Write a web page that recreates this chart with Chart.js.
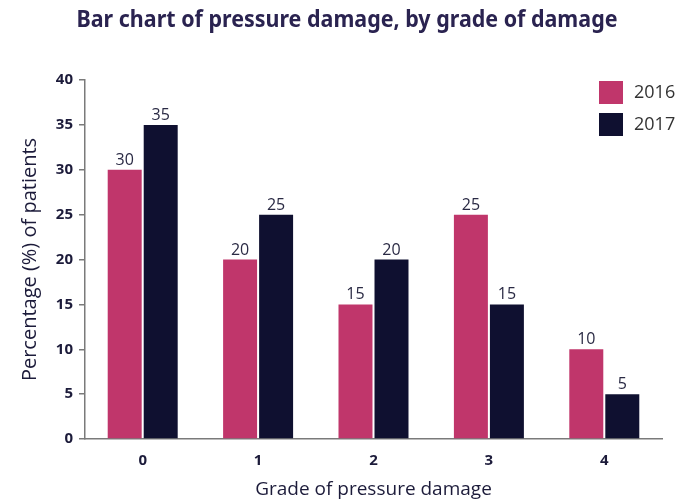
<!DOCTYPE html>
<html>
<head>
<meta charset="utf-8">
<script src="https://cdn.jsdelivr.net/npm/chart.js@4/dist/chart.umd.min.js"></script>
<style>
  html, body { margin: 0; padding: 0; background: #fff; }
  #wrap { width: 690px; height: 503px; }
</style>
</head>
<body>
<div id="wrap"><canvas id="chart"></canvas></div>
<script>
// === DATOS ===
const grades = ["0", "1", "2", "3", "4"];
const values2016 = [30, 20, 15, 25, 10];
const values2017 = [35, 25, 20, 15, 5];
const yTicks = [0, 5, 10, 15, 20, 25, 30, 35, 40];
const chartTitle = "Bar chart of pressure damage, by grade of damage";

const PINK = "#c0366b";
const NAVY = "#0f1030";
const TEXT = "#1c1b3a";

// título algo condensado (no hay fuente condensada instalada)
const condensedTitle = {
  id: "condensedTitle",
  afterDraw(chart) {
    const ctx = chart.ctx;
    ctx.save();
    ctx.font = "bold 23px 'Noto Sans'";
    ctx.fillStyle = "#2a2350";
    ctx.textBaseline = "alphabetic";
    const w = ctx.measureText(chartTitle).width;
    const sx = Math.min(1, 541 / w);
    ctx.translate(347 - (w * sx) / 2, 27);
    ctx.scale(sx, 1);
    ctx.fillText(chartTitle, 0, 0);
    ctx.restore();
  },
};

// etiquetas de valor sobre cada barra
const valueLabels = {
  id: "valueLabels",
  afterDatasetsDraw(chart) {
    const ctx = chart.ctx;
    ctx.save();
    ctx.font = "16px 'Open Sans'";
    ctx.fillStyle = "#2a2a44";
    ctx.textAlign = "center";
    ctx.textBaseline = "alphabetic";
    chart.data.datasets.forEach((ds, i) => {
      chart.getDatasetMeta(i).data.forEach((bar, j) => {
        ctx.fillText(ds.data[j], bar.x, bar.y - 5);
      });
    });
    ctx.restore();
  },
};

// leyenda dibujada a mano arriba a la derecha
const cornerLegend = {
  id: "cornerLegend",
  afterDraw(chart) {
    const ctx = chart.ctx;
    ctx.save();
    ctx.font = "18px 'Open Sans'";
    ctx.textBaseline = "middle";
    chart.data.datasets.forEach((ds, i) => {
      const y = 81 + i * 32;
      ctx.fillStyle = ds.backgroundColor;
      ctx.fillRect(599, y, 24, 23);
      ctx.fillStyle = "#333";
      ctx.fillText(ds.label, 634, y + 12);
    });
    ctx.restore();
  },
};

new Chart(document.getElementById("chart"), {
  type: "bar",
  data: {
    labels: grades,
    datasets: [
      { label: "2016", data: values2016, backgroundColor: PINK },
      { label: "2017", data: values2017, backgroundColor: NAVY },
    ],
  },
  options: {
    responsive: true,
    maintainAspectRatio: false,
    animation: false,
    categoryPercentage: 0.624,
    barPercentage: 0.944,
    layout: { padding: { left: 0, right: 28, top: 80, bottom: 0 } },
    plugins: {
      legend: { display: false },
      tooltip: { enabled: false },
      title: { display: false },
    },
    scales: {
      x: {
        grid: { display: false, drawTicks: false },
        border: { display: true, color: "#7a7a7a", width: 1.5 },
        ticks: {
          color: TEXT,
          padding: 13,
          font: { family: "'Open Sans'", size: 15, weight: "bold" },
        },
        title: {
          display: true,
          text: "Grade of pressure damage",
          color: TEXT,
          font: { family: "'Open Sans'", size: 19 },
          padding: { top: 0, bottom: 2 },
        },
        afterFit(scale) { scale.height = 64; },
      },
      y: {
        min: 0,
        max: 40,
        afterBuildTicks(scale) { scale.ticks = yTicks.map((v) => ({ value: v })); },
        grid: { drawOnChartArea: false, color: "#7a7a7a", tickLength: 6, lineWidth: 1.5 },
        border: { display: true, color: "#7a7a7a", width: 1.5 },
        ticks: {
          color: TEXT,
          padding: 6,
          font: { family: "'Open Sans'", size: 15, weight: "bold" },
        },
        title: {
          display: true,
          text: "Percentage (%) of patients",
          color: TEXT,
          font: { family: "'Open Sans'", size: 20 },
          padding: { top: 18, bottom: 0 },
        },
        afterFit(scale) { scale.width = 85; },
      },
    },
  },
  plugins: [condensedTitle, valueLabels, cornerLegend],
});
</script>
</body>
</html>
